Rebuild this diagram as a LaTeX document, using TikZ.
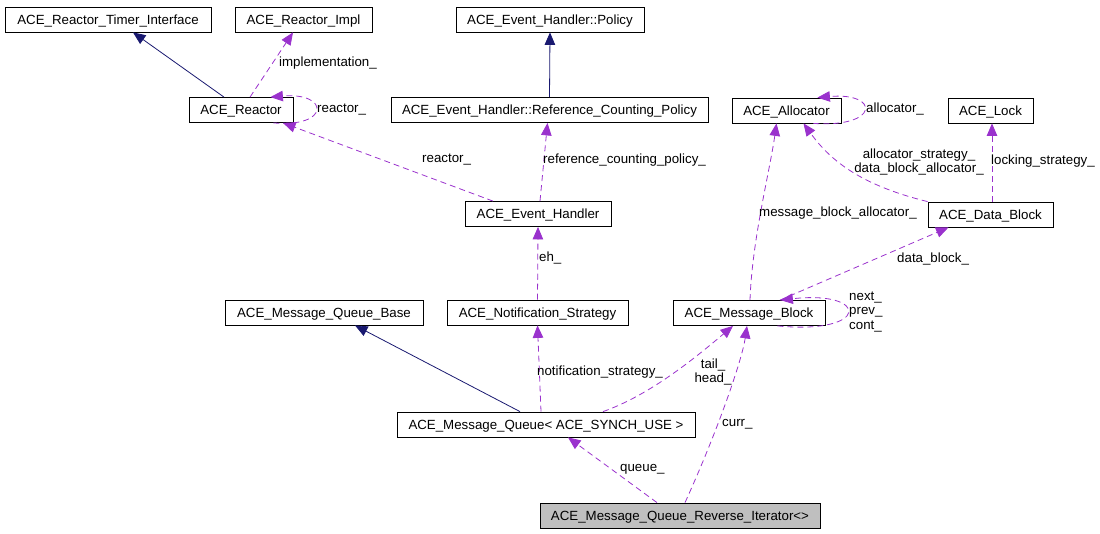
\documentclass[tikz,border=0pt]{standalone}
\usepackage{fontspec}
\setmainfont{Liberation Sans}
\usetikzlibrary{arrows.meta,calc}
\definecolor{inh}{HTML}{191970}
\definecolor{usr}{HTML}{9A32CD}
\definecolor{grayfill}{HTML}{BFBFBF}
\begin{document}
\begin{tikzpicture}[x=1pt,y=-1pt,
 cls/.style={draw=black, line width=0.8pt, inner sep=0pt, minimum height=25pt, text height=9.6pt, text depth=0pt, font=\fontsize{13.3}{15}\selectfont, anchor=center},
 lbl/.style={font=\fontsize{13.3}{14.5}\selectfont, inner sep=0pt, anchor=west, align=left},
 lblc/.style={font=\fontsize{13.3}{14.5}\selectfont, inner sep=0pt, anchor=center, align=center},
 inhedge/.style={draw=inh, line width=0.8pt, -{Triangle[length=12.5pt,width=10.5pt,fill=inh]}},
 useedge/.style={draw=usr, line width=0.8pt, dash pattern=on 6pt off 4pt, -{Triangle[length=12.5pt,width=10.5pt,fill=usr]}},
]
\useasboundingbox (0,0) rectangle (1100,533);
% classes
\node[cls, minimum width=206] (rti) at (108,19.5) {ACE\_Reactor\_Timer\_Interface};
\node[cls, minimum width=137] (rimpl) at (303.5,19.5) {ACE\_Reactor\_Impl};
\node[cls, minimum width=188] (pol) at (550,19.5) {ACE\_Event\_Handler::Policy};
\node[cls, minimum width=104] (react) at (241,110) {ACE\_Reactor};
\node[cls, minimum width=317] (rcp) at (549.5,110) {ACE\_Event\_Handler::Reference\_Counting\_Policy};
\node[cls, minimum width=109] (alloc) at (786.5,110.5) {ACE\_Allocator};
\node[cls, minimum width=85] (lock) at (990.5,110.5) {ACE\_Lock};
\node[cls, minimum width=125] (db) at (990.5,214.5) {ACE\_Data\_Block};
\node[cls, minimum width=146] (eh) at (538,214) {ACE\_Event\_Handler};
\node[cls, minimum width=198] (mqb) at (324,312.5) {ACE\_Message\_Queue\_Base};
\node[cls, minimum width=181] (ns) at (537.5,312.5) {ACE\_Notification\_Strategy};
\node[cls, minimum width=152] (mb) at (749,313) {ACE\_Message\_Block};
\node[cls, minimum width=298] (mq) at (546,424.5) {ACE\_Message\_Queue< ACE\_SYNCH\_USE >};
\node[cls, minimum width=280, fill=grayfill] (it) at (680,515.5) {ACE\_Message\_Queue\_Reverse\_Iterator<>};
% edges
\draw[inhedge] ($(react.north)+(-17,0)$) -- ($(rti.south)+(25,0)$);
\draw[useedge] ($(react.north)+(9,0)$) -- ($(rimpl.south)+(-10.5,0)$);
\node[lbl] (l1) at (279,63) {implementation\_};
\draw[useedge] ($(react.south east)+(-20,0)$) .. controls (330,128) and (330,92) .. ($(react.north east)+(-23,0)$);
\node[lbl] (l2) at (317,110) {reactor\_};
\draw[useedge] ($(eh.north)+(-45,0)$) -- ($(react.south)+(42,0)$);
\node[lbl] (l3) at (422,160) {reactor\_};
\draw[inhedge] (rcp.north) -- (pol.south);
\draw[useedge] ($(eh.north)+(2,0)$) -- ($(rcp.south)+(-2,0)$);
\node[lbl] (l4) at (543,160) {reference\_counting\_policy\_};
\draw[useedge] (ns.north) -- (eh.south);
\node[lbl] (l5) at (539,258) {eh\_};
\draw[inhedge] ($(mq.north)+(-26,0)$) -- ($(mqb.south)+(31,0)$);
\draw[useedge] ($(mq.north)+(-5,0)$) -- (ns.south);
\node[lbl] (l6) at (537,372) {notification\_strategy\_};
\draw[useedge] ($(mq.north)+(57,0)$) .. controls (650,395) and (695,358) .. ($(mb.south)+(-16,0)$);
\node[lblc] (l7) at (713,372) {tail\_\\head\_};
\draw[useedge] ($(it.north)+(-23,0)$) -- ($(mq.south)+(22,0)$);
\node[lbl] (l8) at (620,469) {queue\_};
\draw[useedge] ($(it.north)+(5,0)$) .. controls (718,430) and (742,360) .. ($(mb.south)+(-2,0)$);
\node[lbl] (l9) at (722,424) {curr\_};
\draw[useedge] ($(mb.north)+(1,0)$) .. controls (752,240) and (770,170) .. ($(alloc.south)+(-10,0)$);
\node[lbl] (l10) at (759,213) {message\_block\_allocator\_};
\draw[useedge] ($(mb.north)+(31,0)$) -- ($(db.south)+(-42,0)$);
\node[lbl] (l11) at (897,259) {data\_block\_};
\draw[useedge] ($(mb.south east)+(-48,0)$) .. controls (870,335) and (870,290) .. ($(mb.north east)+(-45,0)$);
\node[lbl] (l12) at (849,312) {next\_\\prev\_\\cont\_};
\draw[useedge] (db.north west) .. controls (860,185) and (830,160) .. ($(alloc.south)+(17,0)$);
\node[lblc] (l13) at (919,162) {allocator\_strategy\_\\data\_block\_allocator\_};
\draw[useedge] ($(db.north)+(1.5,0)$) -- ($(lock.south)+(1.5,0)$);
\node[lbl] (l14) at (991,161) {locking\_strategy\_};
\draw[useedge] ($(alloc.south east)+(-28,0)$) .. controls (880,128) and (880,92) .. ($(alloc.north east)+(-24,0)$);
\node[lbl] (l15) at (866,109) {allocator\_};
\end{tikzpicture}
\end{document}
